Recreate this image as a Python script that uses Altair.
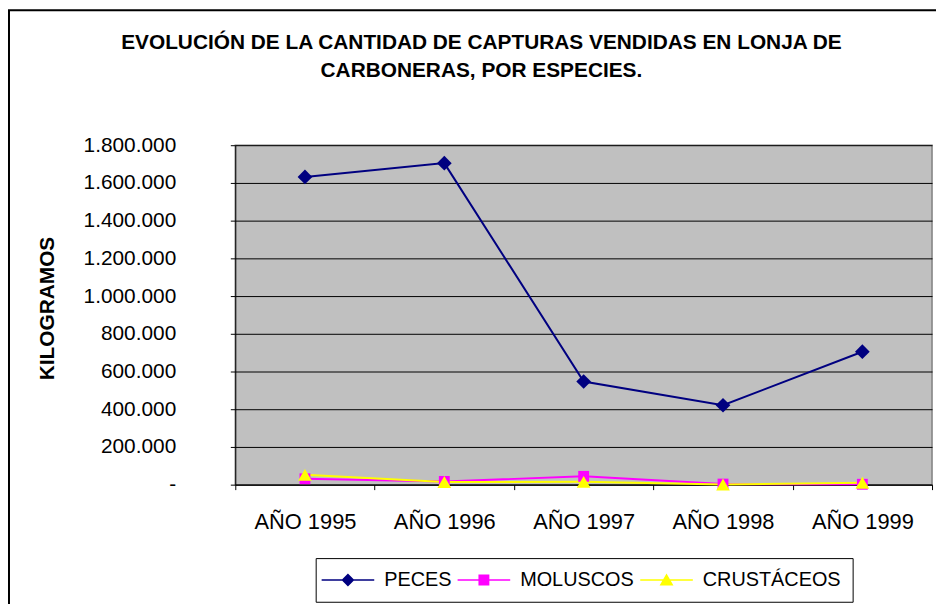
import altair as alt
import pandas as pd

years = ["AÑO 1995", "AÑO 1996", "AÑO 1997", "AÑO 1998", "AÑO 1999"]
series = ["PECES", "MOLUSCOS", "CRUSTÁCEOS"]
peces = [1632000, 1705000, 547000, 421000, 705000]
moluscos = [31000, 17000, 44000, 3000, 2000]
crustaceos = [52000, 14000, 15000, 1000, 10000]
colors = ["#000080", "#FF00FF", "#FFFF00"]
shapes = ["diamond", "square", "triangle-up"]
y_ticks = [0, 200000, 400000, 600000, 800000, 1000000, 1200000, 1400000, 1600000, 1800000]

rows = []
for s, vals in zip(series, [peces, moluscos, crustaceos]):
    for yr, v in zip(years, vals):
        rows.append({"year": yr, "serie": s, "kg": v})
df = pd.DataFrame(rows)

# legend symbols: line segment with marker (custom SVG paths)
leg_paths = [
    "M-3.2,-0.15H7.4V0.15H-3.2Z M2.1,-1.3L3.4,0L2.1,1.3L0.8,0Z",
    "M-3.2,-0.15H7.4V0.15H-3.2Z M1.0,-1.1H3.2V1.1H1.0Z",
    "M-3.2,-0.15H7.4V0.15H-3.2Z M2.1,-1.3L3.5,1.1L0.7,1.1Z",
]

FONT = "Liberation Sans"

x_enc = alt.X("year:N", sort=years, title=None,
              scale=alt.Scale(type="band", paddingInner=0, paddingOuter=0, domain=years),
              axis=alt.Axis(labelAngle=0, labelFontSize=22, labelFont=FONT, labelColor="black",
                            labelPadding=22, tickBand="extent", ticks=True, tickSize=5,
                            tickColor="black", domainColor="black", grid=False))
y_enc = alt.Y("kg:Q", title="KILOGRAMOS",
              scale=alt.Scale(domain=[0, 1800000], nice=False),
              axis=alt.Axis(values=y_ticks, grid=True, gridColor="black", gridOpacity=1,
                            gridWidth=1, tickSize=5, tickColor="black", domainColor="black",
                            labelFontSize=21, labelFont=FONT, labelColor="black", labelPadding=55,
                            labelExpr="datum.value == 0 ? '-' : replace(format(datum.value, ',d'), /,/g, '.')",
                            titleFont=FONT, titleFontSize=21, titleFontWeight="bold",
                            titleColor="black", titlePadding=26, titleY=164))

leg = alt.Legend(title=None, orient="none", direction="horizontal",
                 legendX=81, legendY=416, labelFont=FONT, labelFontSize=20,
                 labelColor="black", symbolSize=100, columnPadding=6,
                 padding=12, labelOffset=37, strokeColor="black",
                 symbolStrokeWidth=0, symbolOpacity=1)
color_enc = alt.Color("serie:N", scale=alt.Scale(domain=series, range=colors), legend=leg)

base = alt.Chart(df)
lines = base.mark_line(strokeWidth=2).encode(x=x_enc, y=y_enc, color=color_enc, detail="serie:N")

pts = []
for s, sh, sz in zip(series, shapes, [220, 120, 190]):
    pts.append(base.transform_filter(alt.datum.serie == s).mark_point(
        filled=True, shape=sh, size=sz, opacity=1).encode(x=x_enc, y=y_enc, color=color_enc))

legend_layer = base.transform_filter("false").mark_point(filled=True, opacity=1).encode(
    x=x_enc, y=y_enc, color=color_enc,
    shape=alt.Shape("serie:N", scale=alt.Scale(domain=series, range=leg_paths), legend=leg),
)

frame = alt.Chart(pd.DataFrame({"f": [0]})).mark_rect(fill="transparent", stroke="black", strokeWidth=2).encode(
    x=alt.value(-228), x2=alt.value(730), y=alt.value(-136), y2=alt.value(500))

chart = alt.layer(lines, *pts, legend_layer, frame).properties(
    width=702, height=342,
    title=alt.TitleParams(["EVOLUCIÓN DE LA CANTIDAD DE CAPTURAS VENDIDAS EN LONJA DE",
                           "CARBONERAS, POR ESPECIES."],
                          font=FONT, fontSize=21, fontWeight="bold", color="black",
                          anchor="middle", frame="group", dx=-103, offset=-72, lineHeight=28),
    padding={"left": 229, "top": 136, "right": 4, "bottom": 118},
    autosize=alt.AutoSizeParams(type="none"),
).configure_view(fill="#C0C0C0", stroke="#808080", strokeWidth=1.5)

chart.save("out.html", embed_options={"renderer": "svg", "actions": False})
